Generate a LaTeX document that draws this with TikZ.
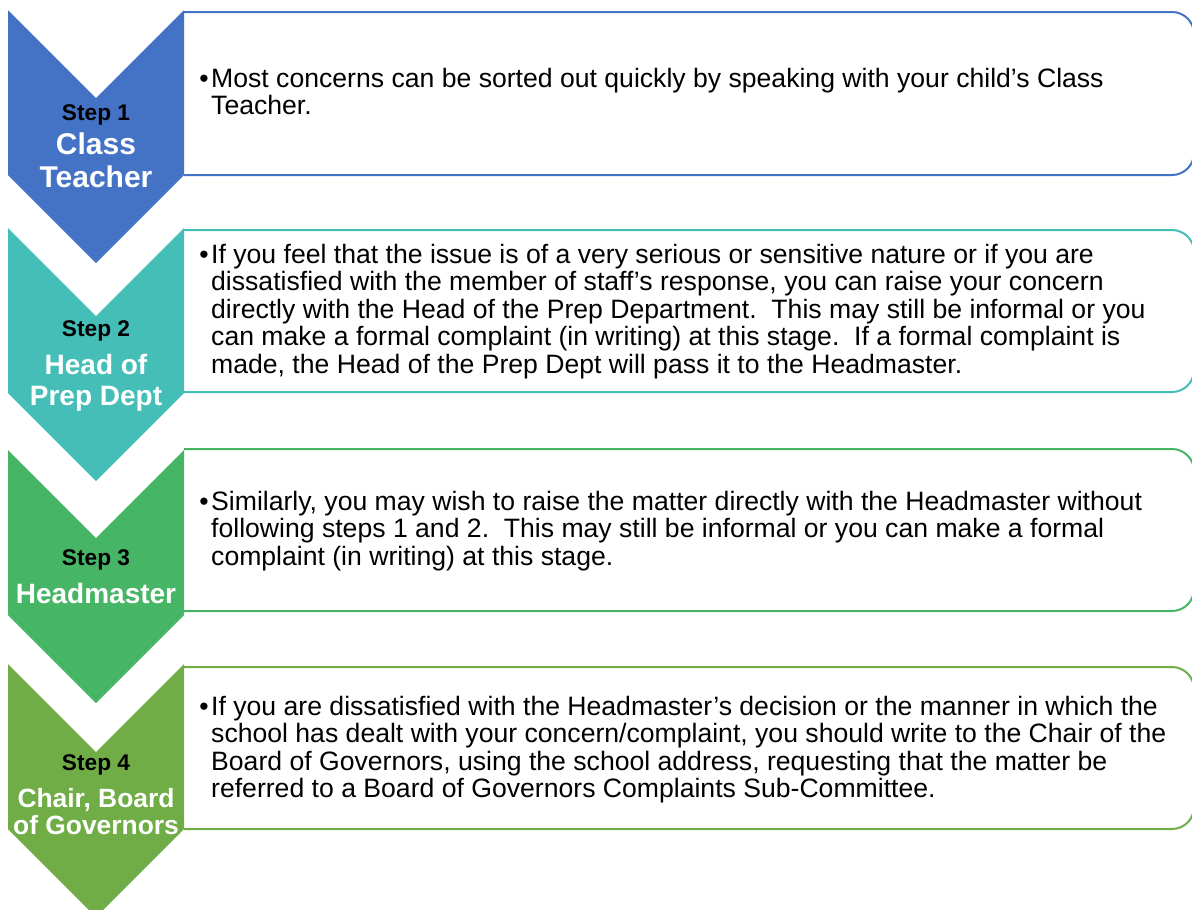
\documentclass[tikz,border=0pt]{standalone}
\usepackage{fontspec}
\setmainfont{Liberation Sans}
\definecolor{cblue}{HTML}{4472C4}
\definecolor{cteal}{HTML}{45BEB8}
\definecolor{cgreen}{HTML}{47B566}
\definecolor{colive}{HTML}{70AD47}
\begin{document}
\begin{tikzpicture}[x=1pt,y=-1pt,
  infobox/.style={line width=2pt, fill=white, rounded corners=22pt},
  steplbl/.style={anchor=base, inner sep=0pt, font=\fontsize{22.7}{26}\selectfont\bfseries, text=black},
  namelbl/.style={anchor=base, inner sep=0pt, font=\fontsize{28}{32}\selectfont\bfseries, text=white},
  bodytxt/.style={anchor=base west, inner sep=0pt},
  bullet/.style={anchor=base, inner sep=0pt, font=\fontsize{26.6}{27.6}\selectfont}
]
\useasboundingbox (0,0) rectangle (1192,910);
\clip (0,0) rectangle (1192,910);
\newcommand{\chev}[2]{%
  \fill[#2] (8,#1) -- (96,#1+88) -- (184,#1) -- (184,#1+165) -- (96,#1+253) -- (8,#1+165) -- cycle;}
\newcommand{\infob}[3]{%
  \draw[infobox, draw=#3] (184,#1) -- (1194,#1) -- (1194,#2) -- (184,#2);}
\newcommand{\bodytext}[1]{\parbox[t]{1000pt}{\fontsize{26.6}{27.6}\selectfont\raggedright #1}}

% boxes
\infob{12}{175}{cblue}
\infob{230}{392}{cteal}
\infob{449}{611}{cgreen}
\infob{667}{829}{colive}

% chevrons
\chev{10}{cblue}
\chev{228}{cteal}
\chev{450}{cgreen}
\chev{664}{colive}

% chevron labels
\node[steplbl] (s1) at (96,120) {Step 1};
\node[namelbl, font=\fontsize{30}{34}\selectfont\bfseries] (n1a) at (96,154) {Class};
\node[namelbl, font=\fontsize{30}{34}\selectfont\bfseries] (n1b) at (96,187) {Teacher};

\node[steplbl] (s2) at (96,336) {Step 2};
\node[namelbl] (n2a) at (96,374) {Head of};
\node[namelbl] (n2b) at (96,405) {Prep Dept};

\node[steplbl] (s3) at (96,565) {Step 3};
\node[namelbl] (n3a) at (96,603) {Headmaster};

\node[steplbl] (s4) at (96,770) {Step 4};
\node[namelbl, font=\fontsize{26.4}{30}\selectfont\bfseries] (n4a) at (96,807) {Chair, Board};
\node[namelbl, font=\fontsize{26.4}{30}\selectfont\bfseries] (n4b) at (96,834) {of Governors};

% bullets
\node[bullet] (b1) at (204,87) {\textbullet};
\node[bullet] (b2) at (204,263) {\textbullet};
\node[bullet] (b3) at (204,510) {\textbullet};
\node[bullet] (b4) at (204,715) {\textbullet};

% body texts
\node[bodytxt] (t1) at (211,87) {\bodytext{Most concerns can be sorted out quickly by speaking with your child’s Class\\Teacher.}};
\node[bodytxt] (t2) at (211,263) {\bodytext{If you feel that the issue is of a very serious or sensitive nature or if you are\\dissatisfied with the member of staff’s response, you can raise your concern\\directly with the Head of the Prep Department.\ \ This may still be informal or you\\can make a formal complaint (in writing) at this stage.\ \ If a formal complaint is\\made, the Head of the Prep Dept will pass it to the Headmaster.}};
\node[bodytxt] (t3) at (211,510) {\bodytext{Similarly, you may wish to raise the matter directly with the Headmaster without\\following steps 1 and 2.\ \ This may still be informal or you can make a formal\\complaint (in writing) at this stage.}};
\node[bodytxt] (t4) at (211,715) {\bodytext{If you are dissatisfied with the Headmaster’s decision or the manner in which the\\school has dealt with your concern/complaint, you should write to the Chair of the\\Board of Governors, using the school address, requesting that the matter be\\referred to a Board of Governors Complaints Sub-Committee.}};
\end{tikzpicture}
\end{document}
